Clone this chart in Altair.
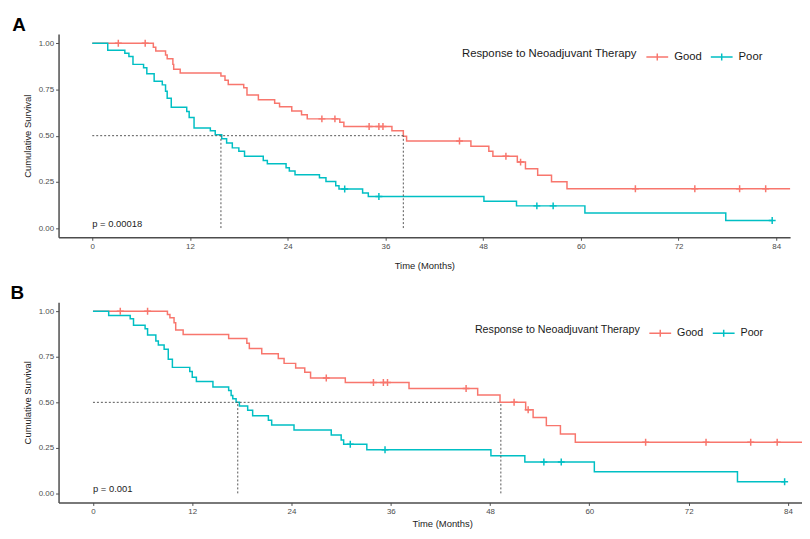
import altair as alt
import pandas as pd

FONT = "Liberation Sans"
GROUPS = ["Good", "Poor"]
COLORS = ["#F8766D", "#00BFC4"]
X_TICKS = [0, 12, 24, 36, 48, 60, 72, 84]
Y_TICKS = [0.0, 0.25, 0.5, 0.75, 1.0]

# ---------------- Panel A ----------------
A_good_time = [7.5, 7.8, 9.0, 9.2, 9.9, 10.0, 10.8, 15.8, 16.3, 16.7, 18.6, 19.0, 20.4,
               22.4, 23.0, 24.5, 25.7, 26.4, 30.4, 30.9, 36.8, 38.2, 38.6, 46.5, 48.7,
               49.2, 52.2, 53.2, 54.7, 56.4, 58.3]
A_good_surv = [0.979, 0.958, 0.937, 0.916, 0.886, 0.859, 0.839, 0.823, 0.800, 0.777, 0.760,
               0.720, 0.695, 0.675, 0.656, 0.634, 0.613, 0.591, 0.573, 0.550, 0.527, 0.497,
               0.471, 0.443, 0.416, 0.389, 0.357, 0.321, 0.286, 0.250, 0.213]
A_good_censor = [3.2, 6.5, 28.2, 29.8, 34.0, 35.2, 35.7, 45.1, 50.8, 52.6, 66.7, 74.0, 79.5, 82.7]
A_good_end = 90.0

A_poor_time = [1.9, 4.0, 4.5, 5.0, 6.3, 6.7, 7.6, 8.6, 9.0, 9.2, 9.7, 11.6, 11.9, 12.5, 14.5,
               15.1, 15.9, 16.5, 17.2, 18.0, 18.7, 21.0, 21.5, 23.8, 24.2, 24.9, 27.9, 28.7,
               29.9, 30.3, 33.2, 33.9, 48.1, 52.1, 60.5, 77.8]
A_poor_surv = [0.963, 0.946, 0.929, 0.886, 0.868, 0.835, 0.795, 0.775, 0.741, 0.703, 0.654,
               0.631, 0.598, 0.541, 0.527, 0.505, 0.484, 0.461, 0.434, 0.416, 0.389, 0.366,
               0.348, 0.327, 0.309, 0.288, 0.272, 0.252, 0.229, 0.211, 0.190, 0.171, 0.145,
               0.120, 0.082, 0.041]
A_poor_censor = [31.0, 35.2, 54.6, 56.6, 83.5]
A_poor_end = 83.5

A_median = [15.8, 38.2]
A_pval = "p = 0.00018"

# ---------------- Panel B ----------------
B_good_time = [9.0, 9.3, 9.8, 10.0, 10.9, 16.4, 18.6, 18.9, 20.4, 22.4, 23.1, 24.5, 25.6,
               26.3, 30.5, 38.2, 46.5, 49.2, 52.3, 53.2, 54.8, 56.5, 58.3]
B_good_surv = [0.982, 0.964, 0.937, 0.897, 0.873, 0.850, 0.824, 0.796, 0.767, 0.741, 0.714,
               0.689, 0.665, 0.634, 0.609, 0.576, 0.540, 0.500, 0.459, 0.417, 0.372, 0.326,
               0.281]
B_good_censor = [3.3, 6.6, 28.2, 33.9, 35.1, 35.6, 45.1, 50.9, 52.6, 66.8, 74.1, 79.5, 82.7]
B_good_end = 90.0

B_poor_time = [1.9, 4.5, 4.9, 6.3, 6.6, 7.6, 7.9, 8.6, 9.1, 9.6, 11.7, 12.0, 12.5, 14.5, 16.4,
               16.7, 16.9, 17.3, 17.7, 18.7, 19.3, 21.2, 21.6, 24.3, 28.8, 30.0, 30.3, 33.1,
               48.1, 52.2, 60.6, 77.9]
B_poor_surv = [0.977, 0.959, 0.924, 0.904, 0.870, 0.837, 0.815, 0.792, 0.737, 0.692, 0.669,
               0.638, 0.614, 0.584, 0.565, 0.538, 0.520, 0.500, 0.480, 0.457, 0.426, 0.402,
               0.375, 0.348, 0.321, 0.293, 0.270, 0.239, 0.207, 0.172, 0.118, 0.064]
B_poor_censor = [31.1, 35.3, 54.5, 56.6, 83.6]
B_poor_end = 83.6

B_median = [17.5, 49.3]
B_pval = "p = 0.001"


def surv_at(times, surv, t):
    s = 1.0
    for tt, ss in zip(times, surv):
        if tt <= t:
            s = ss
    return s


def tables(good, poor):
    line_rows, cens_rows = [], []
    for g, (times, surv, censor, end) in zip(GROUPS, [good, poor]):
        pts = [(0.0, 1.0)] + list(zip(times, surv)) + [(end, surv[-1])]
        for i, (t, s) in enumerate(pts):
            line_rows.append({"group": g, "time": t, "surv": s, "idx": i})
        for c in censor:
            cens_rows.append({"group": g, "time": c, "surv": surv_at(times, surv, c)})
    return pd.DataFrame(line_rows), pd.DataFrame(cens_rows)


def panel(letter, good, poor, medians, pval, width, height, xdom, letter_x,
          legend_x, legend_y, legend_fs, xtitle_pad, xtitle_x=None):
    lines_df, cens_df = tables(good, poor)
    med_df = pd.DataFrame({
        "x": [0.0] + medians,
        "x2": [max(medians)] + medians,
        "y": [0.5, 0.0, 0.0],
        "y2": [0.5, 0.5, 0.5],
    })
    xs = alt.Scale(domain=xdom, nice=False, zero=False)
    ys = alt.Scale(domain=[-0.05, 1.05], nice=False, zero=False)
    xaxis_kw = dict(values=X_TICKS, title="Time (Months)", format="d", titlePadding=xtitle_pad)
    if xtitle_x is not None:
        xaxis_kw["titleX"] = xtitle_x
    xaxis = alt.Axis(**xaxis_kw)
    yaxis = alt.Axis(values=Y_TICKS, title="Cumulative Survival", format=".2f")
    color = alt.Color(
        "group:N",
        scale=alt.Scale(domain=GROUPS, range=COLORS),
        legend=alt.Legend(
            orient="none", legendX=legend_x, legendY=legend_y,
            direction="horizontal", titleOrient="left",
            title="Response to Neoadjuvant Therapy",
            titleFontSize=legend_fs, titleFontWeight="normal", titleFont=FONT,
            titleColor="#1a1a1a", labelFontSize=legend_fs, labelFont=FONT,
            labelColor="#1a1a1a", symbolType="M-1,0L1,0M0,-0.32L0,0.32",
            symbolSize=484, symbolStrokeWidth=1.5, labelOffset=5,
            columnPadding=6, titlePadding=8, padding=0,
        ),
    )
    lines = alt.Chart(lines_df).mark_line(
        interpolate="step-after", strokeWidth=1.5, clip=True
    ).encode(
        x=alt.X("time:Q", scale=xs, axis=xaxis),
        y=alt.Y("surv:Q", scale=ys, axis=yaxis),
        color=color,
        order="idx:Q",
    )
    cens = alt.Chart(cens_df).mark_point(
        shape="M-1,0L1,0M0,-1L0,1", filled=False, size=49, strokeWidth=1.5, opacity=1
    ).encode(
        x=alt.X("time:Q", scale=xs, axis=xaxis),
        y=alt.Y("surv:Q", scale=ys, axis=yaxis),
        color=color,
    )
    med = alt.Chart(med_df).mark_rule(
        color="#555555", strokeDash=[2, 2], strokeWidth=1
    ).encode(
        x=alt.X("x:Q", scale=xs, axis=xaxis), x2="x2:Q",
        y=alt.Y("y:Q", scale=ys, axis=yaxis), y2="y2:Q",
    )
    ptxt = alt.Chart(pd.DataFrame({"x": [0.0], "y": [0.0], "label": [pval]})).mark_text(
        align="left", baseline="alphabetic", fontSize=9.5, font=FONT, color="#222222", dy=-1
    ).encode(
        x=alt.X("x:Q", scale=xs, axis=xaxis),
        y=alt.Y("y:Q", scale=ys, axis=yaxis),
        text="label:N",
    )
    ltxt = alt.Chart(pd.DataFrame({"label": [letter]})).mark_text(
        align="left", baseline="alphabetic", fontSize=19, fontWeight="bold",
        font="Liberation Sans", color="#000000"
    ).encode(x=alt.value(letter_x), y=alt.value(-3), text="label:N")
    return alt.layer(lines, cens, med, ptxt, ltxt).properties(width=width, height=height)


pA = panel("A", (A_good_time, A_good_surv, A_good_censor, A_good_end),
           (A_poor_time, A_poor_surv, A_poor_censor, A_poor_end),
           A_median, A_pval, 738, 205, [-4.14, 85.7], -46.7, 407, 11, 11.4, 10)
pB = panel("B", (B_good_time, B_good_surv, B_good_censor, B_good_end),
           (B_poor_time, B_poor_surv, B_poor_censor, B_poor_end),
           B_median, B_pval, 750, 202, [-4.16, 85.7], -48.5, 420, 19, 10.8, 3.5,
           xtitle_x=387)

chart = alt.vconcat(pA, pB, spacing=14.5).resolve_scale(
    x="independent", y="independent", color="independent"
).resolve_legend(color="independent").properties(
    padding={"left": 2, "top": 6, "right": 0, "bottom": 0},
    background="white",
).configure_view(stroke=None).configure_axis(
    grid=False, domainColor="#4d4d4d", domainWidth=1.5, tickColor="#4d4d4d",
    tickWidth=1, tickSize=3, labelFont=FONT, labelFontSize=8, labelColor="#4d4d4d",
    labelPadding=2, titleFont=FONT, titleFontSize=9.5, titleFontWeight="normal",
    titleColor="#222222",
).configure_axisY(titlePadding=6)

chart.save("out.html", embed_options={"renderer": "svg", "actions": False})
